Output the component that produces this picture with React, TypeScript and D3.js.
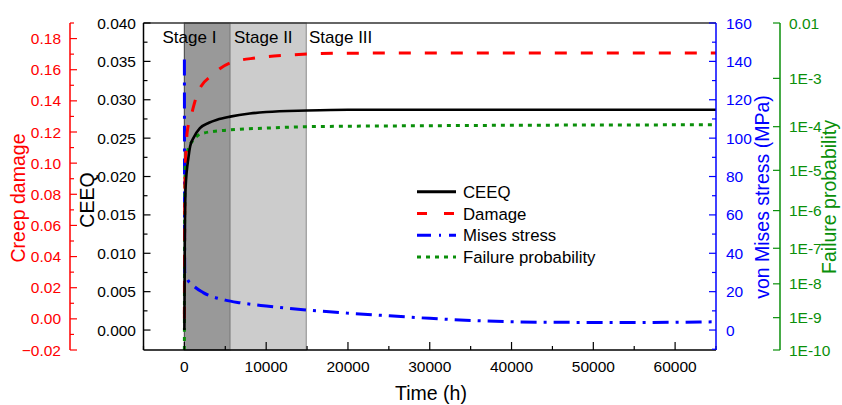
import React from 'react';
import * as d3 from 'd3';

// time axis, hours
const timeTicks = [0, 10000, 20000, 30000, 40000, 50000, 60000];

// CEEQ (left inner axis)
const ceeqT = [0, 50, 150, 500, 700, 1200, 1900, 3000, 4000, 5600, 8000, 10000, 15000, 20000, 40000, 65000];
const ceeqV = [0, 0.012, 0.0186, 0.0225, 0.0239, 0.0252, 0.0263, 0.027, 0.0274, 0.0278, 0.0282, 0.0284, 0.0286, 0.0287, 0.0287, 0.0287];

// creep damage (left outer axis)
const dmgT = [0, 30, 100, 200, 330, 900, 1700, 3500, 5600, 8800, 12500, 15300, 20000, 40000, 65000];
const dmgV = [0, 0.06, 0.095, 0.107, 0.1195, 0.132, 0.146, 0.157, 0.1644, 0.1676, 0.1693, 0.1701, 0.1706, 0.1708, 0.1708];

// von Mises stress, MPa (right inner axis)
const misesT = [0, 40, 100, 300, 1000, 2300, 5000, 6800, 10000, 15000, 20000, 25000, 30000, 35000, 40000, 47000, 55000, 63000, 65000];
const misesV = [141, 30, 29.5, 27, 23.5, 19.5, 15.6, 14.2, 12.5, 10.4, 8.8, 7.4, 6.1, 5.0, 4.3, 4.0, 3.9, 4.2, 4.3];

// failure probability (right outer axis)
const probT = [0, 20, 60, 100, 330, 1100, 2300, 5600, 10000, 15000, 30000, 65000];
const probV = [1e-10, 1e-7, 3e-6, 1.2e-5, 2.6e-5, 5.1e-5, 7.2e-5, 8.5e-5, 9.3e-5, 1.0e-4, 1.05e-4, 1.1e-4];

const ceeqTicks = [0, 0.005, 0.01, 0.015, 0.02, 0.025, 0.03, 0.035, 0.04];
const dmgTicks = [-0.02, 0, 0.02, 0.04, 0.06, 0.08, 0.1, 0.12, 0.14, 0.16, 0.18];
const misesTicks = [0, 20, 40, 60, 80, 100, 120, 140, 160];
const probTicks = [1e-2, 1e-3, 1e-4, 1e-5, 1e-6, 1e-7, 1e-8, 1e-9, 1e-10];
const probLabels = ['0.01', '1E-3', '1E-4', '1E-5', '1E-6', '1E-7', '1E-8', '1E-9', '1E-10'];

const stages = [
  { name: 'Stage I', from: 0, to: 5600, fill: '#999999', stroke: '#555555' },
  { name: 'Stage II', from: 5600, to: 14900, fill: '#cccccc', stroke: '#999999' },
];

const RED = '#ff0000';
const BLUE = '#0000ff';
const GREEN = '#0a8f0a';
const FONT = 'Liberation Sans, Arial, sans-serif';

const L = 143.5, R = 716, T = 23, B = 350;

const x = d3.scaleLinear().domain([-5000, 65000]).range([L, R]);
const yCeeq = d3.scaleLinear().domain([-0.0026, 0.04]).range([B, T]);
const yDmg = d3.scaleLinear().domain([-0.02, 0.19]).range([B, T]);
const yMises = d3.scaleLinear().domain([-10.4, 160]).range([B, T]);
// probability axis: decades spaced on a power scale of -log10(p)
const nScale = d3.scalePow().exponent(0.6).domain([2, 10]).range([T, B]);
const yProb = (p: number) => nScale(-Math.log10(p));

const mkLine = (ts: number[], vs: number[], ys: (v: number) => number) =>
  d3.line<number>()
    .x((_, i) => x(ts[i]))
    .y((v) => ys(v))
    .curve(d3.curveMonotoneX)(vs) || '';

const legendItems = [
  { label: 'CEEQ', color: '#000', dash: undefined as string | undefined },
  { label: 'Damage', color: RED, dash: '10,17' },
  { label: 'Mises stress', color: BLUE, dash: '14,8,2,8' },
  { label: 'Failure probability', color: GREEN, dash: '4,5' },
];

export default function App() {
  const fmt3 = d3.format('.3f');
  const fmt2 = d3.format('.2f');
  const minorCeeq = d3.range(0, 0.0401, 0.0025);
  const minorDmg = d3.range(-0.02, 0.1901, 0.01);
  const minorMises = d3.range(-10, 161, 10);
  const minorTime = d3.range(-5000, 65001, 5000);

  return (
    <svg width={842} height={405} style={{ position: 'absolute', left: 0, top: 0 }} fontFamily={FONT}>
      <rect width={842} height={405} fill="#fff" />

      {stages.map((s) => (
        <rect key={s.name} x={x(s.from)} y={T} width={x(s.to) - x(s.from)} height={B - T}
          fill={s.fill} stroke={s.stroke} strokeWidth={1.2} />
      ))}

      <text x={162.5} y={43} fontSize={17}>Stage I</text>
      <text x={234} y={43} fontSize={17}>Stage II</text>
      <text x={309} y={43} fontSize={17}>Stage III</text>

      <g fill="none" strokeWidth={3}>
        <path d={mkLine(misesT, misesV, yMises)} stroke={BLUE} strokeDasharray="16,7,3,7" />
        <path d={mkLine(probT, probV, yProb)} stroke={GREEN} strokeDasharray="4,5" />
        <path d={mkLine(dmgT, dmgV, yDmg)} stroke={RED} strokeDasharray="12,14" />
        <path d={mkLine(ceeqT, ceeqV, yCeeq)} stroke="#000" strokeWidth={2.6} />
      </g>

      {/* frame */}
      <line x1={L} x2={R} y1={T} y2={T} stroke="#333" strokeWidth={1.5} />
      <line x1={L} x2={R} y1={B} y2={B} stroke="#000" strokeWidth={1.5} />
      <line x1={L} x2={L} y1={T} y2={B} stroke="#000" strokeWidth={1.5} />

      {/* bottom axis */}
      {minorTime.map((t) => (
        <line key={'mt' + t} x1={x(t)} x2={x(t)} y1={B} y2={B - (t % 10000 === 0 ? 8 : 4)} stroke="#000" strokeWidth={1.2} />
      ))}
      {timeTicks.map((t) => (
        <text key={'tt' + t} x={x(t)} y={372} fontSize={15.5} textAnchor="middle">{t}</text>
      ))}
      <text x={431} y={400} fontSize={19.5} textAnchor="middle">Time (h)</text>

      {/* CEEQ axis */}
      {minorCeeq.map((v, i) => (
        <line key={'mc' + i} x1={L} x2={L + (i % 2 === 0 ? 7 : 4)} y1={yCeeq(v)} y2={yCeeq(v)} stroke="#000" strokeWidth={1.2} />
      ))}
      {ceeqTicks.map((v) => (
        <text key={'ct' + v} x={136} y={yCeeq(v)} dy="0.36em" fontSize={15.5} textAnchor="end">{fmt3(v)}</text>
      ))}
      <text transform="translate(94,200) rotate(-90)" fontSize={19.5} textAnchor="middle">CEEQ</text>

      {/* creep damage axis */}
      <line x1={70} x2={70} y1={T} y2={B} stroke={RED} strokeWidth={1.5} />
      {minorDmg.map((v, i) => (
        <line key={'md' + i} x1={70} x2={70 + (i % 2 === 0 ? 7 : 4)} y1={yDmg(v)} y2={yDmg(v)} stroke={RED} strokeWidth={1.2} />
      ))}
      {dmgTicks.map((v) => (
        <text key={'dt' + v} x={61} y={yDmg(v)} dy="0.36em" fontSize={15.5} textAnchor="end" fill={RED}>{fmt2(v)}</text>
      ))}
      <text transform="translate(25,198) rotate(-90)" fontSize={19.5} textAnchor="middle" fill={RED}>Creep damage</text>

      {/* von Mises axis */}
      <line x1={R} x2={R} y1={T} y2={B} stroke={BLUE} strokeWidth={1.5} />
      {minorMises.map((v, i) => (
        <line key={'mm' + i} x1={R} x2={R - (v % 20 === 0 ? 7 : 4)} y1={yMises(v)} y2={yMises(v)} stroke={BLUE} strokeWidth={1.2} />
      ))}
      {misesTicks.map((v) => (
        <text key={'mst' + v} x={726} y={yMises(v)} dy="0.36em" fontSize={15.5} fill={BLUE}>{v}</text>
      ))}
      <text transform="translate(769,197) rotate(-90)" fontSize={19.5} textAnchor="middle" fill={BLUE}>von Mises stress (MPa)</text>

      {/* failure probability axis */}
      <line x1={780} x2={780} y1={T} y2={B} stroke={GREEN} strokeWidth={1.5} />
      {probTicks.map((p) => (
        <line key={'pt' + p} x1={780} x2={773} y1={yProb(p)} y2={yProb(p)} stroke={GREEN} strokeWidth={1.2} />
      ))}
      {probTicks.map((p, i) => (
        <text key={'pl' + p} x={789} y={yProb(p)} dy="0.36em" fontSize={15.5} fill={GREEN}>{probLabels[i]}</text>
      ))}
      <text transform="translate(836,197) rotate(-90)" fontSize={19.5} textAnchor="middle" fill={GREEN}>Failure probability</text>

      {/* legend */}
      {legendItems.map((it, i) => {
        const cy = 191.7 + i * 21.8;
        return (
          <g key={it.label}>
            <line x1={417} x2={456} y1={cy} y2={cy} stroke={it.color} strokeWidth={3} strokeDasharray={it.dash} />
            <text x={463} y={cy} dy="0.36em" fontSize={16.8}>{it.label}</text>
          </g>
        );
      })}
    </svg>
  );
}
